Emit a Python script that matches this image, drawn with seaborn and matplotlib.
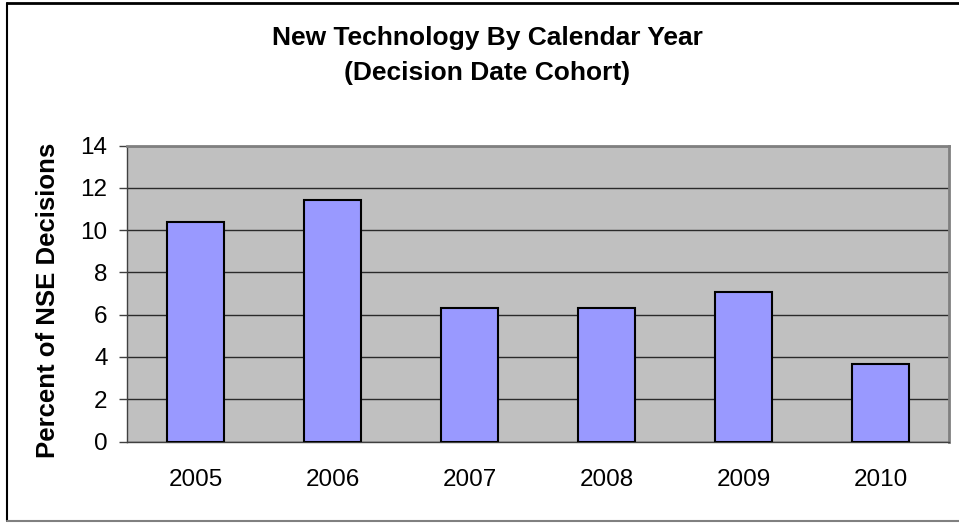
import numpy as np
import pandas as pd
import seaborn as sns
import matplotlib.pyplot as plt
from matplotlib.lines import Line2D

years = ["2005", "2006", "2007", "2008", "2009", "2010"]
percent = [10.37, 11.4, 6.31, 6.31, 7.05, 3.66]

data = pd.DataFrame({"year": years, "percent": percent})

sns.set_style("white")
plt.rcParams['font.family'] = ['Liberation Sans', 'DejaVu Sans']
plt.rcParams['text.color'] = 'black'
plt.rcParams['xtick.labelcolor'] = 'black'
plt.rcParams['ytick.labelcolor'] = 'black'

fig = plt.figure(figsize=(9.59, 5.23), dpi=100)
# plot area placed like the excel chart
ax = fig.add_axes([127 / 959, 1 - 441.5 / 523, 822 / 959, 296 / 523])
ax.set_facecolor('#C0C0C0')

sns.barplot(x="year", y="percent", data=data, color='#9999FF', width=0.41,
            edgecolor='black', linewidth=1.5, saturation=1, ax=ax, zorder=3)

ax.set_ylim(0, 14)
ax.set_yticks(range(0, 15, 2))
ax.set_xlim(-0.5, 5.5)
ax.yaxis.grid(True, color='#2a2a2a', linewidth=1)
ax.set_axisbelow(True)

# ticks between categories on x
ax.set_xticks(np.arange(-0.5, 6, 1), minor=True)
ax.tick_params(axis='x', which='major', length=0, labelsize=17.5, pad=20)
ax.tick_params(axis='x', which='minor', length=6, width=1, color='#404040', direction='out')
ax.tick_params(axis='y', length=6, width=1, color='#404040', direction='out',
               labelsize=17.5, pad=8, left=True)

ax.set_xlabel('')
ax.set_ylabel('')
fig.text(48 / 959, 1 - 300 / 523, 'Percent of NSE Decisions', rotation=90,
         ha='center', va='center', fontsize=18.5, fontweight='bold')

for pos in ['top', 'right']:
    ax.spines[pos].set_color('#808080')
    ax.spines[pos].set_linewidth(2)
for pos in ['left', 'bottom']:
    ax.spines[pos].set_color('#404040')
    ax.spines[pos].set_linewidth(1)

fig.text(487 / 959, 1 - 38 / 523, 'New Technology By Calendar Year', ha='center', va='center',
         fontsize=19, fontweight='bold')
fig.text(487 / 959, 1 - 73 / 523, '(Decision Date Cohort)', ha='center', va='center',
         fontsize=19, fontweight='bold')

# chart frame
fig.add_artist(Line2D([7 / 959, 1], [1 - 3 / 523, 1 - 3 / 523], color='black', linewidth=2))
fig.add_artist(Line2D([7 / 959, 7 / 959], [1 - 3 / 523, 2 / 523], color='black', linewidth=1.5))
fig.add_artist(Line2D([7 / 959, 1], [2 / 523, 2 / 523], color='#808080', linewidth=1.5))

plt.savefig('out.png', dpi=100)
